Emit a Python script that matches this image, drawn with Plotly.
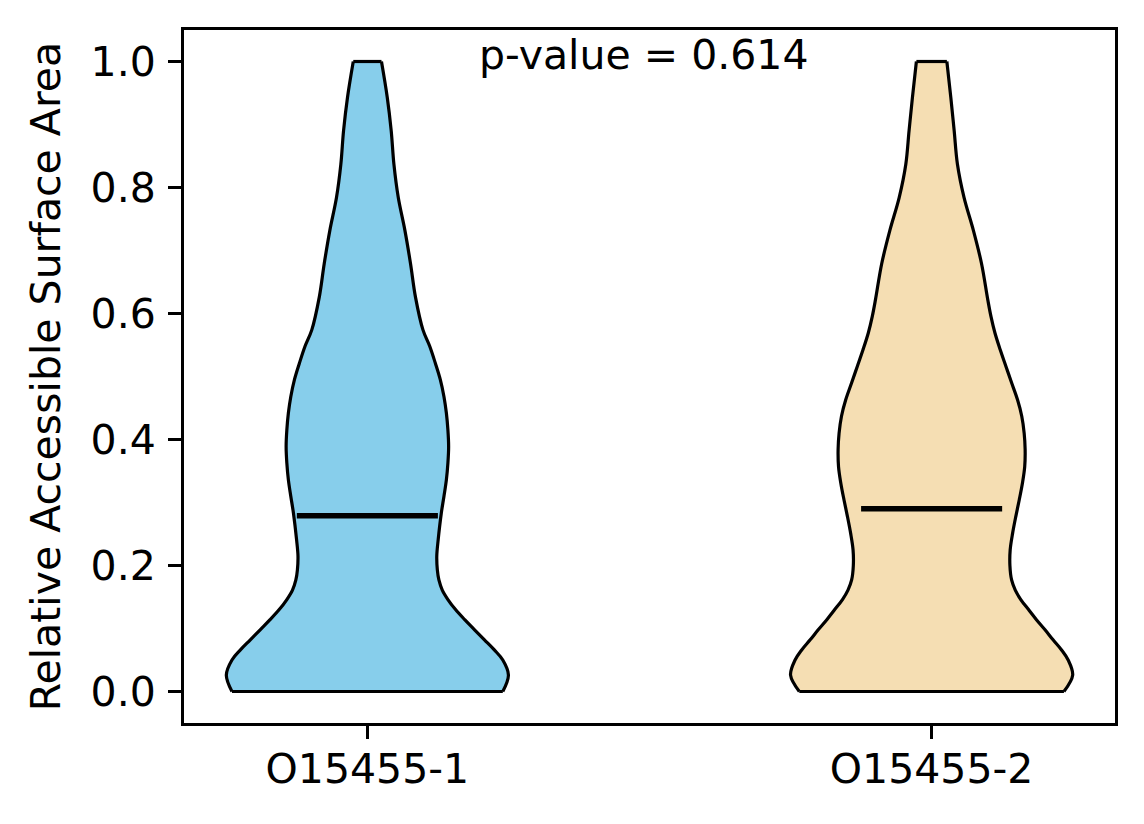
import numpy as np
import plotly.graph_objects as go

# violin profiles (relative half-width, 1.0 = widest)
labels = ["O15455-1", "O15455-2"]
positions = [1, 2]
colors = ["#87CEEB", "#F5DEB3"]

rsa_grid_1 = [0.0, 0.026, 0.05, 0.066, 0.082, 0.098, 0.114, 0.13, 0.146, 0.161, 0.177, 0.193,
              0.215, 0.241, 0.283, 0.31, 0.336, 0.363, 0.389, 0.415, 0.442, 0.468, 0.495, 0.521,
              0.548, 0.574, 0.626, 0.679, 0.732, 0.784, 0.837, 0.89, 0.943, 1.0]
density_1 = [0.96, 1.0, 0.96, 0.90, 0.83, 0.76, 0.69, 0.625, 0.571, 0.531, 0.507, 0.496,
             0.492, 0.502, 0.524, 0.543, 0.56, 0.571, 0.576, 0.571, 0.56, 0.543, 0.517, 0.482,
             0.442, 0.394, 0.341, 0.306, 0.266, 0.219, 0.188, 0.169, 0.141, 0.10]

rsa_grid_2 = [0.0, 0.026, 0.05, 0.066, 0.082, 0.098, 0.114, 0.13, 0.146, 0.161, 0.177, 0.2,
              0.225, 0.251, 0.278, 0.304, 0.331, 0.357, 0.384, 0.41, 0.437, 0.463, 0.49, 0.516,
              0.542, 0.569, 0.595, 0.622, 0.679, 0.732, 0.784, 0.837, 0.89, 0.943, 1.0]
density_2 = [0.938, 1.0, 0.968, 0.921, 0.861, 0.804, 0.743, 0.687, 0.632, 0.593, 0.567, 0.555,
             0.557, 0.574, 0.597, 0.621, 0.644, 0.66, 0.663, 0.656, 0.639, 0.609, 0.567, 0.527,
             0.487, 0.449, 0.421, 0.398, 0.354, 0.296, 0.23, 0.183, 0.16, 0.136, 0.108]

medians = [0.279, 0.290]
p_value = 0.614

FONT = "DejaVu Sans"
half_width = 0.25
edge = dict(color="black", width=3.2)

fig = go.Figure()

for pos, grid, dens, color in zip(positions, [rsa_grid_1, rsa_grid_2], [density_1, density_2], colors):
    grid = np.array(grid)
    dens = np.array(dens) * half_width
    # left side, then right side filled back to it
    fig.add_trace(
        go.Scatter(
            x=pos - dens, y=grid, mode="lines",
            line=dict(**edge, shape="spline", smoothing=1.0),
            hoverinfo="skip", showlegend=False,
        )
    )
    fig.add_trace(
        go.Scatter(
            x=pos + dens, y=grid, mode="lines",
            fill="tonextx", fillcolor=color,
            line=dict(**edge, shape="spline", smoothing=1.0),
            hoverinfo="skip", showlegend=False,
        )
    )
    # flat caps at min and max
    for i in (0, -1):
        fig.add_trace(
            go.Scatter(
                x=[pos - dens[i], pos + dens[i]], y=[grid[i], grid[i]],
                mode="lines", line=edge, hoverinfo="skip", showlegend=False,
            )
        )

# median lines
for pos, med in zip(positions, medians):
    fig.add_trace(
        go.Scatter(
            x=[pos - half_width / 2, pos + half_width / 2],
            y=[med, med],
            mode="lines",
            line=dict(color="black", width=5.5),
            showlegend=False,
        )
    )

fig.add_annotation(
    x=1.49,
    xref="x",
    y=1,
    yref="paper",
    yanchor="top",
    yshift=1,
    text=f"p-value = {p_value}",
    showarrow=False,
    font=dict(family=FONT, size=41, color="black"),
)

axis_style = dict(
    showline=True,
    linecolor="black",
    linewidth=3,
    mirror=True,
    ticks="outside",
    ticklen=13,
    tickwidth=3,
    tickcolor="black",
    showgrid=False,
    zeroline=False,
    automargin=False,
    tickfont=dict(family=FONT, size=41, color="black"),
)

fig.update_xaxes(
    range=[0.675, 2.325],
    tickvals=positions,
    ticktext=labels,
    ticklabelstandoff=-5,
    **axis_style,
)
fig.update_yaxes(
    range=[-0.05, 1.05],
    tickvals=[0.0, 0.2, 0.4, 0.6, 0.8, 1.0],
    tickformat=".1f",
    ticklabelstandoff=4,
    title=dict(text="Relative Accessible Surface Area", font=dict(family=FONT, size=41, color="black"), standoff=18),
    **axis_style,
)

# page body has an 8px margin, so the plot area is offset by that much
fig.update_layout(
    width=1144,
    height=824,
    margin=dict(l=176, r=37, t=22, b=109),
    plot_bgcolor="white",
    paper_bgcolor="white",
    font=dict(family=FONT, size=41, color="black"),
)

fig.write_html("out.html")
